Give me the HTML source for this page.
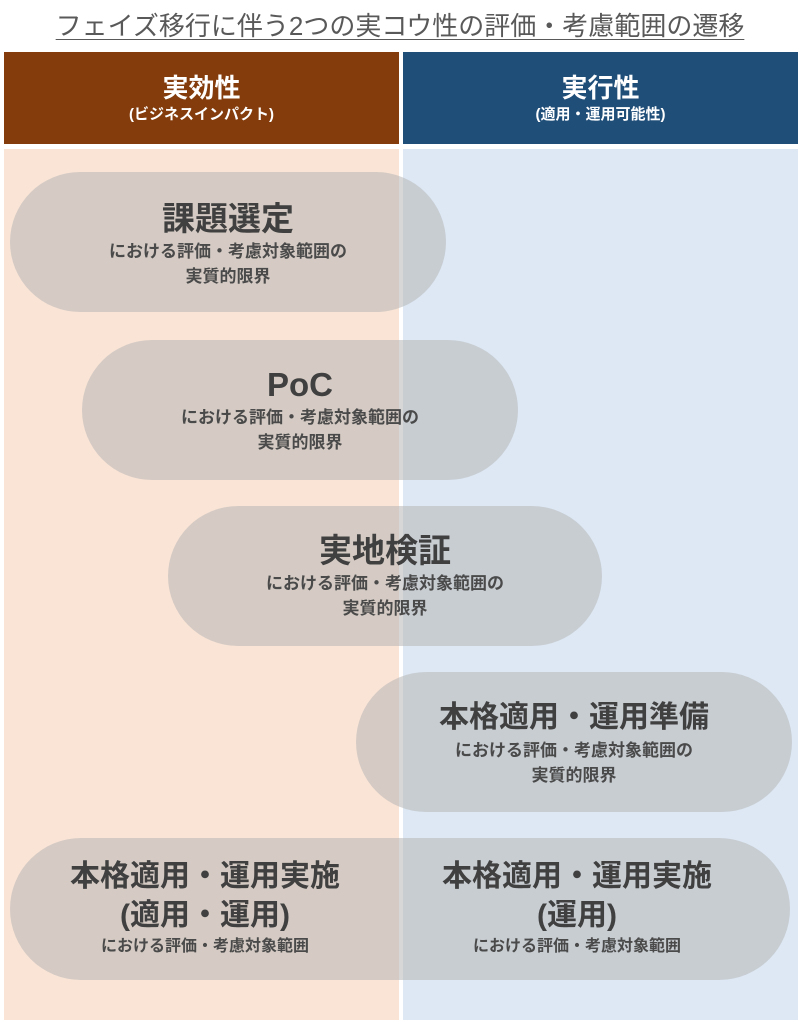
<!DOCTYPE html>
<html><head><meta charset="utf-8"><style>
body{margin:0;width:800px;height:1024px;background:#fff;position:relative;overflow:hidden;font-family:"Liberation Sans","Noto Sans CJK JP",sans-serif;}
.abs{position:absolute;}
.title{left:0;width:800px;top:6px;text-align:center;font-size:26px;color:#595959;}
.title span{text-decoration:underline;text-decoration-thickness:1px;text-underline-offset:4px;}
.hd{top:52px;height:92px;color:#fff;text-align:center;font-weight:bold;}
.hd .a{font-size:26px;margin-top:20px;line-height:32px;}
.hd .b{font-size:15px;line-height:22px;}
.pill{background:rgba(183,183,183,0.55);border-radius:70px;text-align:center;color:#404040;font-weight:bold;}
.pill .t{font-size:33px;line-height:40px;}
.pill .s{font-size:17px;line-height:25px;color:#4a4a4a;}
</style></head><body>
<div class="abs title"><span>フェイズ移行に伴う2つの実コウ性の評価・考慮範囲の遷移</span></div>
<div class="abs hd" style="left:4px;width:395px;background:#843c0c"><div class="a">実効性</div><div class="b">(ビジネスインパクト)</div></div>
<div class="abs hd" style="left:403px;width:395px;background:#1f4e79"><div class="a">実行性</div><div class="b">(適用・運用可能性)</div></div>
<div class="abs" style="left:4px;top:149px;width:395px;height:871px;background:#fae4d6"></div>
<div class="abs" style="left:403px;top:149px;width:395px;height:871px;background:#dde8f4"></div>

<div class="abs pill" style="left:10px;top:172px;width:436px;height:140px"><div class="t" style="margin-top:27px">課題選定</div><div class="s">における評価・考慮対象範囲の<br>実質的限界</div></div>
<div class="abs pill" style="left:82px;top:340px;width:436px;height:140px"><div class="t" style="margin-top:25px">PoC</div><div class="s">における評価・考慮対象範囲の<br>実質的限界</div></div>
<div class="abs pill" style="left:168px;top:506px;width:434px;height:140px"><div class="t" style="margin-top:25px">実地検証</div><div class="s">における評価・考慮対象範囲の<br>実質的限界</div></div>
<div class="abs pill" style="left:356px;top:672px;width:436px;height:140px"><div class="t" style="margin-top:26px;font-size:30px">本格適用・運用準備</div><div class="s">における評価・考慮対象範囲の<br>実質的限界</div></div>
<div class="abs pill" style="left:10px;top:838px;width:780px;height:142px;border-radius:72px"></div>
<div class="abs" style="left:10px;top:857px;width:390px;text-align:center;color:#404040;font-weight:bold"><div style="font-size:30px;line-height:39px">本格適用・運用実施<br>(適用・運用)</div><div style="font-size:16px;line-height:24px;color:#4a4a4a">における評価・考慮対象範囲</div></div>
<div class="abs" style="left:382px;top:857px;width:390px;text-align:center;color:#404040;font-weight:bold"><div style="font-size:30px;line-height:39px">本格適用・運用実施<br>(運用)</div><div style="font-size:16px;line-height:24px;color:#4a4a4a">における評価・考慮対象範囲</div></div>
</body></html>
